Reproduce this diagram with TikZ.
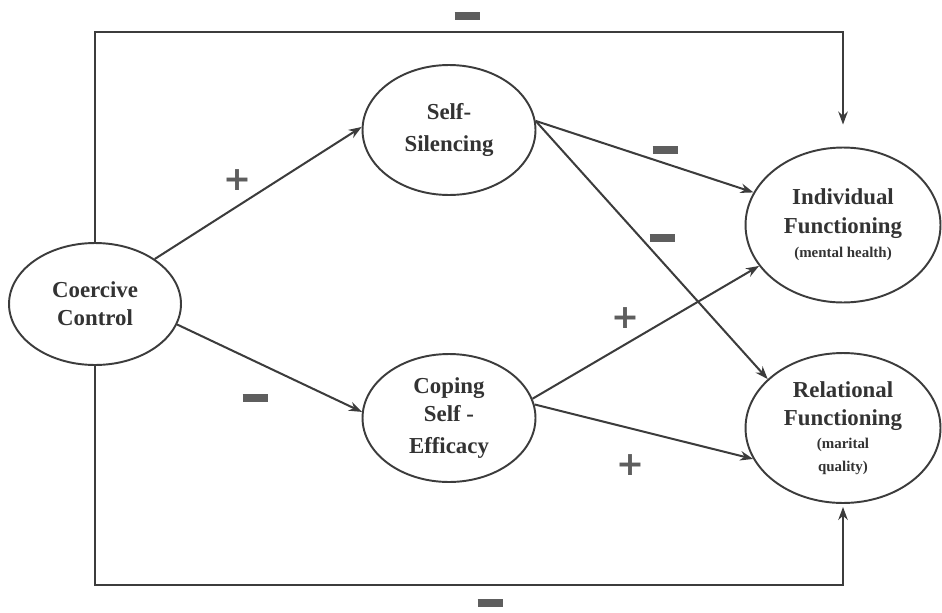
\documentclass[tikz,border=0pt]{standalone}
\usepackage{fontspec}
\setmainfont{Liberation Serif}
\newfontfamily\signfont{DejaVu Sans}
\usetikzlibrary{arrows.meta,positioning,calc,shapes.geometric}
\definecolor{ink}{HTML}{333333}
\definecolor{wire}{HTML}{3C3C3C}
\definecolor{signgray}{HTML}{5E5E5E}
\tikzset{arr/.style={-{Stealth[length=2.6mm,width=1.9mm]},line width=1.15pt,draw=wire},
  oval/.style={ellipse,draw=wire,line width=1.1pt,fill=white,align=center,inner sep=0pt,
    text=ink,font=\fontsize{13}{16}\selectfont\bfseries},
  minussign/.style={inner sep=0pt,text=signgray},
  plussign/.style={inner sep=0pt,text=signgray,font=\signfont\fontsize{19}{19}\selectfont\bfseries}}
\newcommand{\negbar}{\rule{0.5cm}{0.16cm}}
\newcommand{\subtxt}[1]{{\fontsize{8.5}{10}\selectfont #1}}

\begin{document}
\begin{tikzpicture}[x=0.02cm,y=-0.02cm]
\useasboundingbox (0,0) rectangle (942,612);
\node[oval,minimum width=3.44cm,minimum height=2.44cm] (cc) at (95,304) {Coercive\\Control};
\node[oval,minimum width=3.46cm,minimum height=2.6cm] (silence) at (449,130) {Self-\\[2pt]Silencing};
\node[oval,minimum width=3.46cm,minimum height=2.56cm] (coping) at (449,418) {Coping\\Self -\\[2pt]Efficacy};
\node[oval,minimum width=3.9cm,minimum height=3.1cm] (indiv) at (843,225) {Individual\\Functioning\\[-2pt]\subtxt{(mental health)}};
\node[oval,minimum width=3.9cm,minimum height=3.0cm] (relat) at (843,428) {Relational\\Functioning\\[-3pt]\subtxt{(marital}\\[-3pt]\subtxt{quality)}};
\draw[arr] (cc.37) -- (silence.178);
\draw[arr] (cc.-14) -- (coping.176);
\draw[arr] (silence.6) -- (indiv.160);
\draw[arr] (silence.6) -- (relat.147);
\draw[arr] (coping.13) -- (indiv.-154);
\draw[arr] (coping.9) -- (relat.-161);
\draw[arr,shorten >=0.44cm] (cc.north) -- (cc.north |- 0,32) -- (indiv.north |- 0,32) -- (indiv.north);
\draw[arr,shorten >=0.06cm] (cc.south) -- (cc.south |- 0,585) -- (relat.south |- 0,585) -- (relat.south);
\node[minussign] (nt) at (467,16) {\negbar};
\node[minussign] (nb) at (490,603) {\negbar};
\node[minussign] (nl) at (255,398) {\negbar};
\node[minussign] (ni) at (665,150) {\negbar};
\node[minussign] (nr) at (662,238) {\negbar};
\node[plussign] (ps) at (237,180) {+};
\node[plussign] (pi) at (625,318) {+};
\node[plussign] (pr) at (630,465) {+};
\end{tikzpicture}
\end{document}
